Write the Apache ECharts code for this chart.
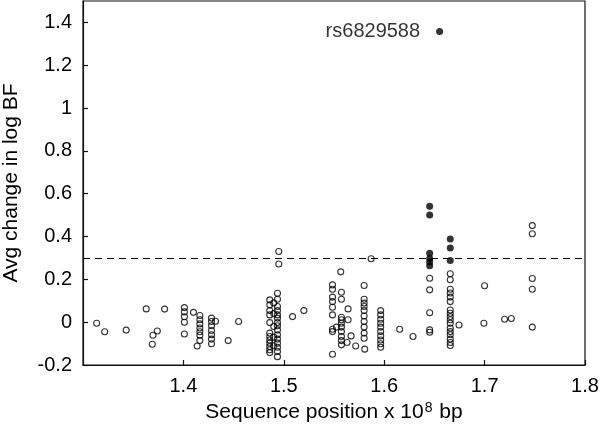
<!DOCTYPE html>
<html>
<head>
<meta charset="utf-8">
<script src="https://cdn.jsdelivr.net/npm/echarts@6/dist/echarts.min.js"></script>
<style>
html,body{margin:0;padding:0;background:#fff;}
#chart{width:600px;height:432px;}
</style>
</head>
<body>
<div id="chart"></div>
<script>
// Sequence position (x 10^8 bp) and average change in log BF
const hollowPoints = [
  [1.3136,-0.005],[1.3216,-0.045],[1.343,-0.037],[1.363,0.062],[1.3697,-0.061],[1.369,-0.103],[1.374,-0.041],[1.3813,0.061],
  [1.401,0.068],[1.401,0.048],[1.401,0.025],[1.401,0.0],[1.401,-0.055],
  [1.410,0.046],
  [1.4164,0.031],[1.4164,0.011],[1.4164,-0.008],[1.4164,-0.027],[1.4164,-0.045],[1.4164,-0.061],[1.4164,-0.086],[1.4137,-0.111],
  [1.428,0.019],[1.428,0.003],[1.428,-0.017],[1.428,-0.039],[1.428,-0.059],[1.428,-0.079],[1.428,-0.101],[1.432,0.004],
  [1.4446,-0.086],[1.455,0.003],
  [1.486,0.104],[1.486,0.081],[1.486,0.054],[1.486,0.034],[1.486,-0.002],[1.486,-0.051],[1.486,-0.067],[1.486,-0.083],[1.486,-0.098],[1.486,-0.114],[1.486,-0.129],[1.486,-0.142],
  [1.490,0.09],[1.490,0.04],[1.490,-0.02],[1.490,-0.07],[1.490,-0.11],
  [1.4937,0.135],[1.4937,0.107],[1.4937,0.073],[1.4937,0.054],[1.4937,0.034],[1.4937,0.019],[1.4937,-0.002],[1.4937,-0.017],[1.4937,-0.036],[1.4937,-0.059],[1.4937,-0.079],[1.4937,-0.098],[1.4937,-0.117],[1.4937,-0.137],[1.4937,-0.161],
  [1.495,0.33],[1.495,0.272],
  [1.5087,0.026],[1.520,0.054],
  [1.5485,0.174],[1.5485,0.154],[1.5485,0.117],[1.5485,0.096],[1.5485,0.070],[1.5485,0.034],[1.5485,-0.033],[1.5485,-0.044],[1.5485,-0.150],
  [1.5567,0.235],
  [1.5574,0.140],[1.5574,0.107],[1.5574,0.023],[1.5574,0.011],[1.5574,-0.005],[1.5574,-0.023],[1.5574,-0.044],[1.5574,-0.067],[1.5574,-0.086],[1.5574,-0.106],
  [1.5524,-0.023],
  [1.564,0.062],[1.564,0.011],[1.563,-0.095],[1.567,-0.064],[1.5716,-0.111],
  [1.580,0.171],[1.580,0.107],[1.580,0.089],[1.580,0.073],[1.580,0.054],[1.580,0.029],[1.580,0.003],[1.580,-0.023],[1.580,-0.051],[1.580,-0.075],[1.5806,-0.126],
  [1.587,0.296],
  [1.5965,0.054],[1.5965,0.034],[1.5965,0.014],[1.5965,-0.005],[1.5965,-0.023],[1.5965,-0.044],[1.5965,-0.064],[1.5965,-0.083],[1.5965,-0.101],[1.5965,-0.117],
  [1.6154,-0.033],[1.6287,-0.067],
  [1.6453,0.205],[1.6453,0.151],[1.6453,0.044],[1.6453,-0.036],[1.6453,-0.047],
  [1.6658,0.226],[1.6658,0.198],[1.6658,0.154],[1.6658,0.136],[1.6658,0.117],[1.6658,0.096],[1.6658,0.057],[1.6658,0.042],[1.6658,0.026],[1.6658,0.011],[1.6658,-0.005],[1.6658,-0.028],[1.6658,-0.044],[1.6658,-0.059],[1.6658,-0.079],[1.6658,-0.095],[1.6658,-0.109],
  [1.6745,-0.013],[1.700,0.170],[1.6993,-0.005],[1.7199,0.014],[1.7266,0.017],
  [1.7475,0.451],[1.7475,0.413],[1.7475,0.204],[1.7475,0.154],[1.7475,-0.023]
];
const filledPoints = [
  [1.6453,0.541],[1.6453,0.501],[1.6453,0.322],[1.6453,0.297],[1.6453,0.281],[1.6453,0.263],
  [1.6658,0.388],[1.6658,0.346],[1.6658,0.288]
];
const topSnp = { name: 'rs6829588', value: [1.6552, 1.358] };
const threshold = 0.3;
const xTicks = { min: 1.3, max: 1.8, interval: 0.1 };
const yTicks = { min: -0.2, max: 1.5, interval: 0.2 };

const FONT = 'Liberation Sans, Arial, Helvetica, sans-serif';
const TXT = '#000';
const chart = echarts.init(document.getElementById('chart'), null, {renderer: 'canvas'});
chart.setOption({
  animation: false,
  backgroundColor: '#fff',
  grid: { left: 83, right: 15, top: 1, bottom: 67, show: true, borderColor: '#111', borderWidth: 1.2,
    containLabel: false, outerBoundsMode: 'none' },
  xAxis: {
    type: 'value', min: xTicks.min, max: xTicks.max, interval: xTicks.interval,
    name: 'Sequence position x 10{sup|8} bp', nameLocation: 'middle', nameGap: 36,
    nameTextStyle: { fontFamily: FONT, fontSize: 21, color: TXT,
      rich: { sup: { fontFamily: FONT, fontSize: 14, color: TXT, verticalAlign: 'top', padding: [0,1,9,1] } } },
    axisLine: { show: true, onZero: false, lineStyle: { color: '#111', width: 1.2 } },
    axisTick: { show: true, inside: true, length: 5, lineStyle: { color: '#111', width: 1.2 } },
    axisLabel: { showMinLabel: false, margin: 11, fontFamily: FONT, fontSize: 20, color: TXT,
      formatter: v => String(Math.round(v*10)/10) },
    splitLine: { show: false }
  },
  yAxis: {
    type: 'value', min: yTicks.min, max: yTicks.max, interval: yTicks.interval,
    name: 'Avg change in log BF', nameLocation: 'middle', nameGap: 61,
    nameTextStyle: { fontFamily: FONT, fontSize: 21, color: TXT },
    axisLine: { show: true, onZero: false, lineStyle: { color: '#111', width: 1.2 } },
    axisTick: { show: true, inside: true, length: 5, lineStyle: { color: '#111', width: 1.2 } },
    axisLabel: { showMaxLabel: false, margin: 11, fontFamily: FONT, fontSize: 20, color: TXT,
      formatter: v => String(Math.round(v*10)/10) },
    splitLine: { show: false }
  },
  series: [
    {
      type: 'scatter', data: hollowPoints, symbol: 'circle', symbolSize: 6,
      itemStyle: { color: 'rgba(255,255,255,0)', borderColor: '#000', borderWidth: 1.1 },
      markLine: {
        silent: true, symbol: 'none', label: { show: false },
        lineStyle: { color: '#000', type: [7, 5], width: 1.2 },
        data: [{ yAxis: threshold }]
      }
    },
    {
      type: 'scatter', data: filledPoints, symbol: 'circle', symbolSize: 7,
      itemStyle: { color: '#000' }
    },
    {
      type: 'scatter', data: [topSnp], symbol: 'circle', symbolSize: 7,
      itemStyle: { color: '#000' },
      label: { show: true, position: 'left', distance: 16, formatter: '{b}',
        fontFamily: FONT, fontSize: 20, color: TXT }
    }
  ]
});
</script>
</body>
</html>
